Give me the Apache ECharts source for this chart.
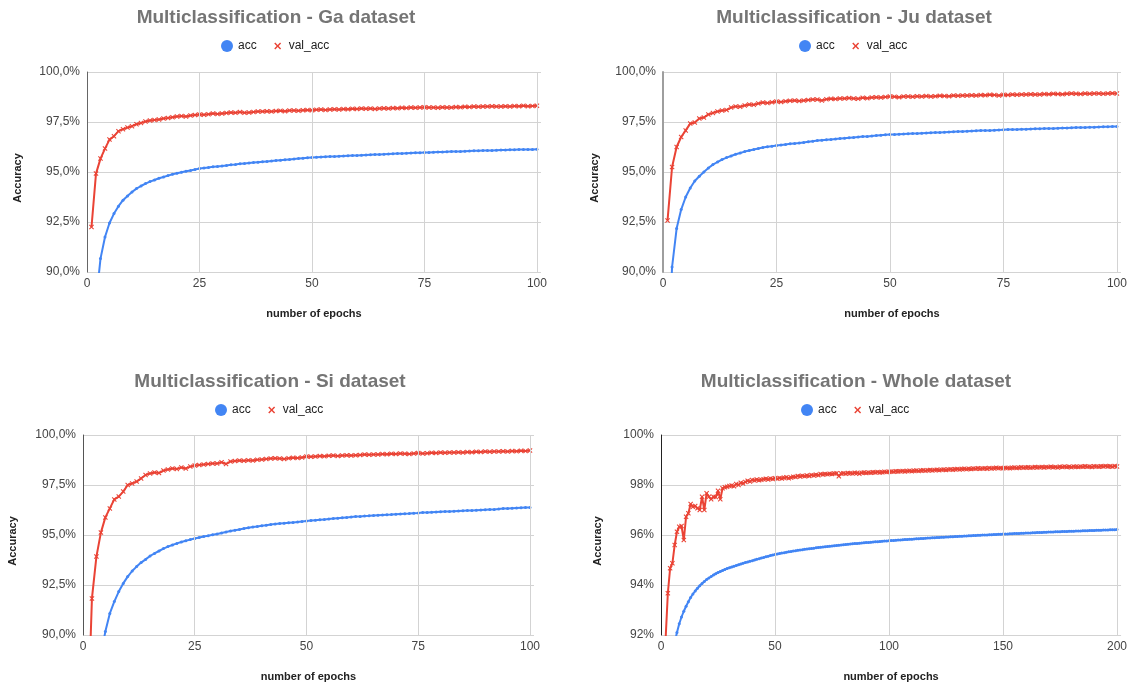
<!DOCTYPE html>
<html>
<head>
<meta charset="utf-8">
<script src="https://cdn.jsdelivr.net/npm/echarts@6/dist/echarts.min.js"></script>
<style>
  html, body { margin: 0; padding: 0; background: #fff; }
  #main { width: 1130px; height: 689px; }
</style>
</head>
<body>
<div id="main"></div>
<script>
var gaAcc = [
  80.50, 88.50, 90.67, 91.75, 92.45, 92.92, 93.29, 93.59, 93.80, 94.00,
  94.17, 94.30, 94.42, 94.52, 94.60, 94.69, 94.75, 94.82, 94.89, 94.94,
  94.99, 95.04, 95.08, 95.13, 95.17, 95.20, 95.23, 95.26, 95.28, 95.30,
  95.33, 95.36, 95.38, 95.41, 95.43, 95.45, 95.47, 95.49, 95.51, 95.53,
  95.55, 95.57, 95.59, 95.61, 95.63, 95.65, 95.67, 95.69, 95.71, 95.73,
  95.74, 95.75, 95.76, 95.77, 95.78, 95.79, 95.80, 95.81, 95.82, 95.83,
  95.84, 95.85, 95.86, 95.87, 95.88, 95.89, 95.90, 95.91, 95.92, 95.93,
  95.94, 95.95, 95.96, 95.96, 95.97, 95.98, 95.99, 96.00, 96.00, 96.01,
  96.02, 96.03, 96.03, 96.04, 96.05, 96.06, 96.06, 96.07, 96.08, 96.08,
  96.09, 96.10, 96.10, 96.11, 96.11, 96.12, 96.12, 96.13, 96.13, 96.14
];
var gaVal = [
  92.25, 94.92, 95.67, 96.17, 96.62, 96.79, 97.04, 97.14, 97.22, 97.29,
  97.39, 97.45, 97.52, 97.57, 97.60, 97.63, 97.67, 97.70, 97.74, 97.78,
  97.80, 97.78, 97.82, 97.85, 97.88, 97.86, 97.89, 97.92, 97.90, 97.93,
  97.95, 97.97, 97.96, 98.00, 97.96, 97.97, 98.00, 98.03, 98.02, 98.04,
  98.02, 98.05, 98.06, 98.04, 98.07, 98.08, 98.06, 98.09, 98.10, 98.09,
  98.11, 98.12, 98.10, 98.13, 98.14, 98.12, 98.15, 98.14, 98.16, 98.15,
  98.17, 98.16, 98.18, 98.15, 98.18, 98.19, 98.17, 98.20, 98.19, 98.21,
  98.20, 98.22, 98.21, 98.23, 98.24, 98.22, 98.23, 98.21, 98.24, 98.23,
  98.22, 98.25, 98.24, 98.26, 98.25, 98.27, 98.26, 98.28, 98.27, 98.29,
  98.28, 98.27, 98.29, 98.28, 98.30, 98.29, 98.31, 98.29, 98.30, 98.31
];
var juAcc = [
  85.20, 90.25, 92.17, 93.12, 93.75, 94.20, 94.55, 94.79, 95.00, 95.20,
  95.37, 95.50, 95.62, 95.72, 95.80, 95.89, 95.95, 96.02, 96.07, 96.12,
  96.17, 96.22, 96.26, 96.29, 96.32, 96.35, 96.38, 96.41, 96.43, 96.45,
  96.48, 96.51, 96.54, 96.57, 96.59, 96.61, 96.63, 96.65, 96.67, 96.69,
  96.71, 96.73, 96.75, 96.77, 96.78, 96.80, 96.82, 96.84, 96.86, 96.87,
  96.88, 96.89, 96.90, 96.91, 96.92, 96.93, 96.94, 96.95, 96.96, 96.97,
  96.98, 96.99, 97.00, 97.01, 97.02, 97.03, 97.04, 97.05, 97.06, 97.07,
  97.08, 97.08, 97.09, 97.10, 97.11, 97.12, 97.12, 97.13, 97.14, 97.14,
  97.15, 97.16, 97.16, 97.17, 97.18, 97.18, 97.19, 97.20, 97.20, 97.21,
  97.22, 97.22, 97.23, 97.24, 97.24, 97.25, 97.26, 97.26, 97.27, 97.28
];
var juVal = [
  92.58, 95.25, 96.25, 96.75, 97.08, 97.42, 97.47, 97.67, 97.72, 97.88,
  97.95, 98.03, 98.08, 98.10, 98.22, 98.28, 98.26, 98.33, 98.38, 98.36,
  98.42, 98.47, 98.45, 98.49, 98.52, 98.50, 98.54, 98.56, 98.58, 98.55,
  98.57, 98.60, 98.62, 98.63, 98.58, 98.64, 98.66, 98.65, 98.67, 98.68,
  98.70, 98.68, 98.66, 98.71, 98.69, 98.72, 98.74, 98.73, 98.75, 98.77,
  98.76, 98.74, 98.77, 98.78, 98.76, 98.79, 98.78, 98.80, 98.77, 98.79,
  98.81, 98.80, 98.79, 98.82, 98.81, 98.83, 98.82, 98.84, 98.83, 98.85,
  98.84, 98.86, 98.85, 98.83, 98.86, 98.85, 98.87, 98.86, 98.88, 98.87,
  98.89, 98.88, 98.87, 98.90, 98.89, 98.91, 98.90, 98.89, 98.91, 98.92,
  98.91, 98.90, 98.92, 98.91, 98.93, 98.92, 98.91, 98.93, 98.94, 98.92
];
var siAcc = [
  78.00, 84.00, 87.00, 89.00, 90.17, 91.08, 91.67, 92.17, 92.58, 92.92,
  93.20, 93.42, 93.62, 93.78, 93.95, 94.08, 94.20, 94.32, 94.42, 94.50,
  94.58, 94.65, 94.71, 94.77, 94.82, 94.87, 94.92, 94.96, 95.01, 95.05,
  95.10, 95.15, 95.20, 95.24, 95.28, 95.32, 95.36, 95.40, 95.43, 95.46,
  95.49, 95.52, 95.55, 95.57, 95.59, 95.61, 95.63, 95.65, 95.68, 95.70,
  95.72, 95.74, 95.76, 95.78, 95.80, 95.82, 95.84, 95.86, 95.88, 95.90,
  95.92, 95.93, 95.95, 95.96, 95.98, 95.99, 96.00, 96.01, 96.02, 96.04,
  96.05, 96.06, 96.07, 96.09, 96.10, 96.12, 96.13, 96.14, 96.15, 96.16,
  96.17, 96.18, 96.19, 96.20, 96.21, 96.22, 96.23, 96.24, 96.25, 96.26,
  96.27, 96.28, 96.30, 96.33, 96.33, 96.34, 96.35, 96.36, 96.37, 96.38
];
var siVal = [
  85.00, 91.83, 93.92, 95.12, 95.88, 96.33, 96.78, 96.92, 97.17, 97.50,
  97.58, 97.67, 97.83, 98.00, 98.08, 98.12, 98.10, 98.22, 98.28, 98.33,
  98.30, 98.37, 98.33, 98.42, 98.48, 98.50, 98.52, 98.55, 98.57, 98.58,
  98.64, 98.55, 98.68, 98.70, 98.72, 98.71, 98.74, 98.73, 98.76, 98.78,
  98.80, 98.82, 98.84, 98.83, 98.80, 98.84, 98.86, 98.85, 98.88, 98.93,
  98.91, 98.93, 98.95, 98.94, 98.96, 98.97, 98.95, 98.98, 98.99, 98.97,
  98.99, 99.00, 99.02, 99.01, 99.03, 99.02, 99.05, 99.04, 99.06, 99.05,
  99.07, 99.06, 99.05, 99.08, 99.10, 99.08, 99.09, 99.11, 99.10, 99.12,
  99.11, 99.13, 99.12, 99.14, 99.13, 99.15, 99.14, 99.16, 99.15, 99.17,
  99.16, 99.18, 99.17, 99.19, 99.18, 99.20, 99.19, 99.21, 99.20, 99.22
];
var wholeAcc = [
  85.00, 88.00, 89.60, 90.50, 91.20, 91.70, 92.10, 92.45, 92.72, 92.95,
  93.15, 93.33, 93.50, 93.64, 93.76, 93.87, 93.97, 94.06, 94.14, 94.22,
  94.28, 94.34, 94.40, 94.45, 94.50, 94.54, 94.58, 94.62, 94.66, 94.69,
  94.72, 94.75, 94.78, 94.81, 94.84, 94.87, 94.90, 94.92, 94.95, 94.97,
  95.00, 95.03, 95.05, 95.08, 95.10, 95.13, 95.15, 95.18, 95.20, 95.22,
  95.24, 95.26, 95.28, 95.29, 95.31, 95.33, 95.34, 95.36, 95.37, 95.39,
  95.40, 95.41, 95.43, 95.44, 95.45, 95.46, 95.47, 95.49, 95.50, 95.51,
  95.52, 95.53, 95.54, 95.55, 95.56, 95.57, 95.58, 95.59, 95.60, 95.61,
  95.62, 95.63, 95.64, 95.65, 95.66, 95.66, 95.67, 95.68, 95.69, 95.70,
  95.70, 95.71, 95.72, 95.73, 95.73, 95.74, 95.75, 95.76, 95.76, 95.77,
  95.78, 95.78, 95.79, 95.80, 95.80, 95.81, 95.82, 95.82, 95.83, 95.83,
  95.84, 95.85, 95.85, 95.86, 95.86, 95.87, 95.88, 95.88, 95.89, 95.89,
  95.90, 95.90, 95.91, 95.91, 95.92, 95.92, 95.93, 95.93, 95.94, 95.94,
  95.95, 95.95, 95.96, 95.96, 95.97, 95.97, 95.98, 95.98, 95.99, 95.99,
  96.00, 96.00, 96.00, 96.01, 96.01, 96.02, 96.02, 96.03, 96.03, 96.04,
  96.04, 96.04, 96.05, 96.05, 96.06, 96.06, 96.06, 96.07, 96.07, 96.08,
  96.08, 96.08, 96.09, 96.09, 96.10, 96.10, 96.10, 96.11, 96.11, 96.12,
  96.12, 96.12, 96.13, 96.13, 96.13, 96.14, 96.14, 96.14, 96.15, 96.15,
  96.15, 96.16, 96.16, 96.16, 96.17, 96.17, 96.17, 96.18, 96.18, 96.18,
  96.19, 96.19, 96.19, 96.20, 96.20, 96.20, 96.21, 96.21, 96.21, 96.22
];
var wholeVal = [
  88.50, 91.80, 93.67, 94.67, 94.87, 95.60, 96.13, 96.33, 96.36, 95.80,
  96.73, 96.87, 97.24, 97.13, 97.16, 97.07, 97.00, 97.53, 97.00, 97.67,
  97.53, 97.43, 97.53, 97.52, 97.77, 97.43, 97.87, 97.91, 97.93, 97.96,
  97.98, 97.95, 98.04, 98.00, 98.09, 98.06, 98.12, 98.17, 98.14, 98.20,
  98.18, 98.22, 98.19, 98.21, 98.23, 98.25, 98.22, 98.26, 98.24, 98.27,
  98.25, 98.28, 98.26, 98.29, 98.31, 98.27, 98.30, 98.33, 98.32, 98.36,
  98.34, 98.37, 98.35, 98.38, 98.36, 98.40, 98.38, 98.41, 98.39, 98.44,
  98.42, 98.44, 98.43, 98.45, 98.44, 98.46, 98.47, 98.35, 98.46, 98.47,
  98.45, 98.48, 98.47, 98.46, 98.49, 98.48, 98.45, 98.49, 98.50, 98.48,
  98.50, 98.49, 98.51, 98.50, 98.52, 98.50, 98.51, 98.53, 98.52, 98.53,
  98.54, 98.53, 98.55, 98.54, 98.55, 98.56, 98.54, 98.56, 98.57, 98.55,
  98.57, 98.58, 98.56, 98.58, 98.59, 98.57, 98.59, 98.60, 98.58, 98.60,
  98.61, 98.59, 98.61, 98.62, 98.60, 98.62, 98.63, 98.61, 98.63, 98.64,
  98.62, 98.64, 98.65, 98.63, 98.65, 98.64, 98.66, 98.65, 98.67, 98.65,
  98.66, 98.67, 98.65, 98.68, 98.66, 98.67, 98.69, 98.67, 98.68, 98.67,
  98.69, 98.68, 98.67, 98.69, 98.70, 98.68, 98.69, 98.71, 98.69, 98.70,
  98.71, 98.69, 98.70, 98.72, 98.70, 98.71, 98.72, 98.70, 98.72, 98.71,
  98.73, 98.71, 98.72, 98.70, 98.73, 98.72, 98.74, 98.72, 98.73, 98.71,
  98.74, 98.73, 98.72, 98.74, 98.73, 98.75, 98.73, 98.74, 98.72, 98.75,
  98.74, 98.73, 98.75, 98.74, 98.76, 98.74, 98.75, 98.73, 98.76, 98.74
];
var legendNames = ['acc', 'val_acc'];
var titles = [
  'Multiclassification - Ga dataset',
  'Multiclassification - Ju dataset',
  'Multiclassification - Si dataset',
  'Multiclassification - Whole dataset'
];
var xTicks100 = [25, 50, 75, 100];
var xTicks200 = [50, 100, 150, 200];

var BLUE = '#4285F4', RED = '#EA4335', GRID = '#d3d3d3';
var FONT = '"Liberation Sans", Arial, sans-serif';
var X_MARK = 'path://M3,4.2L4.2,3L7,5.8L9.8,3L11,4.2L8.2,7L11,9.8L9.8,11L7,8.2L4.2,11L3,9.8L5.8,7Z';
// same cross with a padded box so the legend icon stays small
var X_LEGEND = 'path://M0,0L0.1,0L0,0.1ZM14,14L13.9,14L14,13.9ZM3,4.2L4.2,3L7,5.8L9.8,3L11,4.2L8.2,7L11,9.8L9.8,11L7,8.2L4.2,11L3,9.8L5.8,7Z';

function pct1(v) { return v.toFixed(1).replace('.', ',') + '%'; }
function pct0(v) { return v + '%'; }

// plot area runs a few px past the last tick, like the sheets chart
var panels = [
  { acc: gaAcc, val: gaVal, grid: [87, 72, 454, 200], cx: 276, ty: 8, ly: 40,
    yMin: 90, yStep: 2.5, xMax: 100.9, ticks: xTicks100, fmt: pct1, axisColor: '#666', axisW: 1, yGap: 64 },
  { acc: juAcc, val: juVal, grid: [663, 72, 458, 200], cx: 854, ty: 8, ly: 40,
    yMin: 90, yStep: 2.5, xMax: 100.9, ticks: xTicks100, fmt: pct1, axisColor: '#9e9e9e', axisW: 2, yGap: 63 },
  { acc: siAcc, val: siVal, grid: [83, 435, 451, 200], cx: 270, ty: 372, ly: 404,
    yMin: 90, yStep: 2.5, xMax: 100.9, ticks: xTicks100, fmt: pct1, axisColor: '#555', axisW: 1, yGap: 65 },
  { acc: wholeAcc, val: wholeVal, grid: [661, 435, 461, 200], cx: 856, ty: 372, ly: 404,
    yMin: 92, yStep: 2, xMax: 201.8, ticks: xTicks200, fmt: pct0, axisColor: '#222', axisW: 1, yGap: 58 }
];

function pairs(arr) {
  return arr.map(function (v, i) { return [i + 1, v]; });
}

var option = {
  animation: false,
  backgroundColor: '#fff',
  textStyle: { fontFamily: FONT },
  title: [], legend: [], grid: [], xAxis: [], yAxis: [], series: []
};

panels.forEach(function (p, i) {
  var step = p.ticks[0];
  option.title.push({
    text: titles[i], left: p.cx, top: p.ty, textAlign: 'center', padding: 0,
    textStyle: { fontFamily: FONT, fontSize: 19, fontWeight: 'bold', color: '#757575' }
  });
  option.legend.push({
    left: p.cx - 55, top: p.ly, padding: 0, itemWidth: 12, itemHeight: 12, itemGap: 15,
    selectedMode: false,
    data: [{ name: legendNames[0], icon: 'circle' }, { name: legendNames[1], icon: X_LEGEND }],
    textStyle: { fontFamily: FONT, fontSize: 12, color: '#222' }
  });
  option.grid.push({ left: p.grid[0], top: p.grid[1], width: p.grid[2], height: p.grid[3] });
  option.xAxis.push({
    type: 'value', gridIndex: i, min: 0, max: p.xMax, interval: step,
    name: 'number of epochs', nameLocation: 'middle', nameGap: 36,
    nameTextStyle: { fontFamily: FONT, fontSize: 11, fontWeight: 'bold', color: '#222' },
    axisLine: { show: false }, axisTick: { show: false },
    axisLabel: {
      fontFamily: FONT, fontSize: 12, color: '#444', margin: 6,
      formatter: function (v) { return v % step === 0 ? String(v) : ''; }
    },
    splitLine: { show: false }
  });
  option.yAxis.push({
    type: 'value', gridIndex: i, min: p.yMin, max: 100, interval: p.yStep,
    name: 'Accuracy', nameLocation: 'middle', nameGap: p.yGap,
    nameTextStyle: { fontFamily: FONT, fontSize: 11, fontWeight: 'bold', color: '#222', padding: [0, 12, 0, 0] },
    axisLine: { show: true, lineStyle: { color: p.axisColor, width: p.axisW } },
    axisTick: { show: false },
    axisLabel: { fontFamily: FONT, fontSize: 12, color: '#444', margin: 7, formatter: p.fmt },
    splitLine: { show: true, lineStyle: { color: GRID, width: 1 } }
  });
  // vertical grid lines at the labelled ticks only
  option.series.push({
    name: 'grid' + i, type: 'line', xAxisIndex: i, yAxisIndex: i, data: [], z: 1,
    markLine: {
      silent: true, symbol: 'none', animation: false,
      label: { show: false },
      lineStyle: { color: GRID, width: 1, type: 'solid' },
      emphasis: { disabled: true },
      data: p.ticks.map(function (t) { return { xAxis: t }; })
    }
  });
  option.series.push({
    name: legendNames[0], type: 'line', xAxisIndex: i, yAxisIndex: i,
    data: pairs(p.acc), symbol: 'circle', symbolSize: 3,
    lineStyle: { color: BLUE, width: 2 }, itemStyle: { color: BLUE },
    emphasis: { disabled: true }
  });
  option.series.push({
    name: legendNames[1], type: 'line', xAxisIndex: i, yAxisIndex: i,
    data: pairs(p.val), symbol: X_MARK, symbolSize: 5,
    lineStyle: { color: RED, width: 2 }, itemStyle: { color: RED },
    emphasis: { disabled: true }
  });
});

var chart = echarts.init(document.getElementById('main'));
chart.setOption(option);
</script>
</body>
</html>
